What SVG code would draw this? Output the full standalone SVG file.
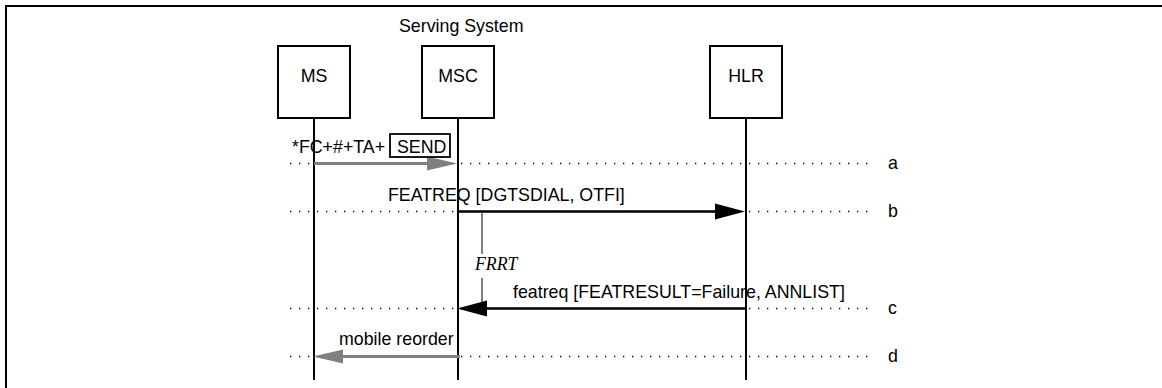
<svg xmlns="http://www.w3.org/2000/svg" width="1162" height="388" viewBox="0 0 1162 388">
<style>
text{font-family:"Liberation Sans",Arial,sans-serif;font-size:17.8px;fill:#000}
.box{fill:#fff;stroke:#000;stroke-width:2}
.life{stroke:#000;stroke-width:2}
.dot{stroke:#000;stroke-width:1.3;stroke-dasharray:1.3 7.7;fill:none}
.gray{stroke:#808080;stroke-width:3;fill:none}
.blk{stroke:#000;stroke-width:2.5;fill:none}
.timer{stroke:#808080;stroke-width:2;fill:none}
.frrt{font-family:"Liberation Serif","Times New Roman",serif;font-style:italic;font-size:17.8px}
</style>
<rect width="1162" height="388" fill="#fff"/>
<path d="M6,388 V6 H1162" fill="none" stroke="#000" stroke-width="2"/>
<text x="399" y="32">Serving System</text>
<g id="rows">
<path class="dot" d="M290,163.5 H870 M290,211.5 H870 M290,308.5 H870 M290,356.5 H870"/>
<text x="888" y="169">a</text>
<text x="888" y="217">b</text>
<text x="888" y="314">c</text>
<text x="888" y="362">d</text>
</g>
<g id="MS">
<rect class="box" x="278" y="46" width="72" height="72"/>
<text x="314" y="82" text-anchor="middle">MS</text>
<line class="life" x1="314" y1="118" x2="314" y2="380"/>
</g>
<g id="MSC">
<rect class="box" x="422" y="46" width="72" height="72"/>
<text x="458" y="82" text-anchor="middle">MSC</text>
<line class="life" x1="458" y1="118" x2="458" y2="380"/>
</g>
<g id="HLR">
<rect class="box" x="710" y="46" width="72" height="72"/>
<text x="746" y="82" text-anchor="middle">HLR</text>
<line class="life" x1="746" y1="118" x2="746" y2="380"/>
</g>
<g id="connectors">
<g id="msg-a">
<line class="gray" x1="314" y1="163.5" x2="430" y2="163.5"/>
<polygon points="427,156.5 457,163.5 427,170.5" fill="#808080"/>
<text x="292" y="153">*FC+#+TA+</text>
<rect x="390" y="134" width="60" height="23" fill="none" stroke="#000" stroke-width="1.8"/>
<text x="397" y="153">SEND</text>
</g>
<g id="msg-b">
<line class="blk" x1="458" y1="211.5" x2="718" y2="211.5"/>
<polygon points="715,203.5 745,211.5 715,219.5" fill="#000"/>
<text x="388" y="201">FEATREQ [DGTSDIAL, OTFI]</text>
</g>
<g id="timer-FRRT">
<line class="timer" x1="482" y1="213" x2="482" y2="254"/>
<line class="timer" x1="482" y1="278" x2="482" y2="302"/>
<text class="frrt" x="475" y="270">FRRT</text>
</g>
<g id="msg-c">
<line class="blk" x1="746" y1="308.5" x2="484" y2="308.5"/>
<polygon points="487,300.5 457,308.5 487,316.5" fill="#000"/>
<text x="513" y="298">featreq [FEATRESULT=Failure, ANNLIST]</text>
</g>
<g id="msg-d">
<line class="gray" x1="460" y1="356.5" x2="340" y2="356.5"/>
<polygon points="343,349.5 313,356.5 343,363.5" fill="#808080"/>
<text x="339" y="345">mobile reorder</text>
</g>
</g>
</svg>
